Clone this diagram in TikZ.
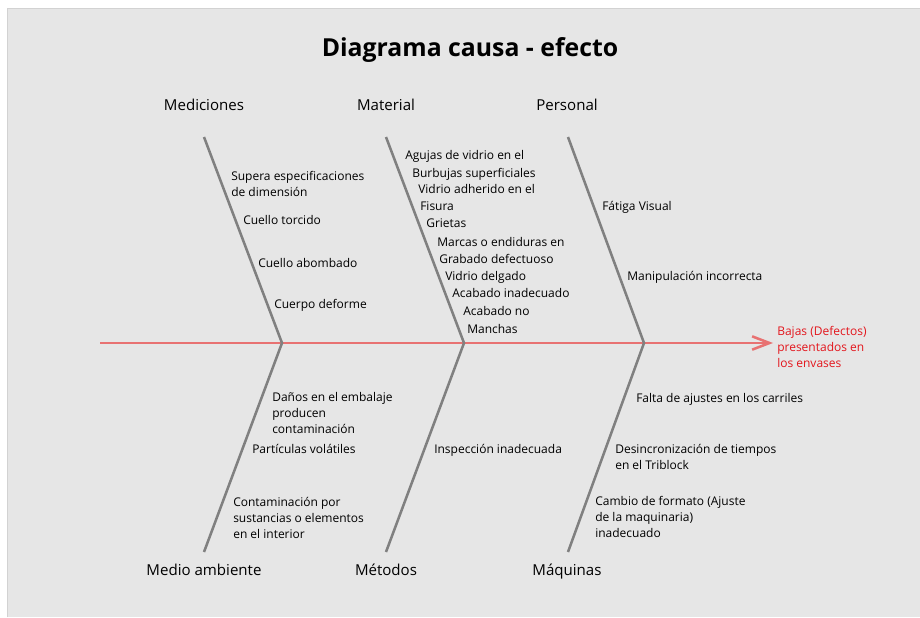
\documentclass[tikz,border=0pt]{standalone}
\usepackage{fontspec}
\setmainfont{Open Sans}
\usetikzlibrary{arrows.meta}

\definecolor{fondo}{HTML}{E6E6E6}
\definecolor{borde}{HTML}{D2D2D2}
\definecolor{espina}{HTML}{E87272}
\definecolor{gris}{HTML}{808080}
\definecolor{rojo}{HTML}{E3161D}

\tikzset{
  hueso/.style={draw=gris, line width=1.9pt},
  causa/.style={anchor=base west, align=left, inner sep=0pt, font=\fontsize{9}{12}\selectfont},
  categoria/.style={anchor=base, inner sep=0pt, font=\fontsize{11.3}{13}\selectfont},
}

\begin{document}
\begin{tikzpicture}[x=0.75pt, y=-0.75pt]

% Fondo
\useasboundingbox (0,0) rectangle (920,617);
\fill[fondo] (7,8) rectangle (920,617);
\draw[borde] (7,617) -- (7,8) -- (920,8);

% Titulo
\node[font=\bfseries\fontsize{18.6}{22}\selectfont] (titulo) at (470,50) {Diagrama causa - efecto};

% Espina central y efecto (base = ultima linea)
\coordinate (cola) at (100,343);
\node[causa, text=rojo] (efecto) at (777,367) {Bajas (Defectos)\\presentados en\\los envases};
\draw[espina, line width=1.9pt, -{Straight Barb[length=13pt, width=10pt]}, shorten >=3pt]
  (cola) -- (cola -| efecto.west);

% Huesos
\foreach \n/\xa/\xj in {1/204/282, 2/386/464, 3/568/644}{
  \coordinate (arriba\n) at (\xa,137);
  \coordinate (union\n) at (\xj,343);
  \coordinate (abajo\n) at (\xa,552);
  \draw[hueso] (arriba\n) -- (union\n) -- (abajo\n);
}

% Categorias
\node[categoria] (mediciones) at (204,110) {Mediciones};
\node[categoria] (material) at (386,110) {Material};
\node[categoria] (personal) at (567,110) {Personal};
\node[categoria] (medio) at (204,575) {Medio ambiente};
\node[categoria] (metodos) at (386,575) {Métodos};
\node[categoria] (maquinas) at (567,575) {Máquinas};

% Mediciones
\node[causa] (med1) at (231,196) {Supera especificaciones\\de dimensión};
\node[causa] (med2) at (243,224) {Cuello torcido};
\node[causa] (med3) at (258,267) {Cuello abombado};
\node[causa] (med4) at (274,308) {Cuerpo deforme};

% Material
\foreach \x/\y/\t [count=\i] in {405/155/Agujas de vidrio en el, 412/173/Burbujas superficiales,
  418/189/Vidrio adherido en el, 420/206/Fisura, 426/223/Grietas,
  437/242/Marcas o endiduras en, 439/259/Grabado defectuoso, 445/276/Vidrio delgado,
  452/293/Acabado inadecuado, 463/311/Acabado no, 467/329/Manchas}
  \node[causa] (mat\i) at (\x,\y+4) {\t};

% Personal
\node[causa] (per1) at (602,210) {Fátiga Visual};
\node[causa] (per2) at (627,280) {Manipulación incorrecta};

% Medio ambiente
\node[causa] (amb1) at (272,433) {Daños en el embalaje\\producen\\contaminación};
\node[causa] (amb2) at (252,453) {Partículas volátiles};
\node[causa] (amb3) at (233,538) {Contaminación por\\sustancias o elementos\\en el interior};

% Metodos
\node[causa] (met1) at (434,453) {Inspección inadecuada};

% Maquinas
\node[causa] (maq1) at (636,402) {Falta de ajustes en los carriles};
\node[causa] (maq2) at (615,469) {Desincronización de tiempos\\en el Triblock};
\node[causa] (maq3) at (595,537) {Cambio de formato (Ajuste\\de la maquinaria)\\inadecuado};

\end{tikzpicture}
\end{document}
